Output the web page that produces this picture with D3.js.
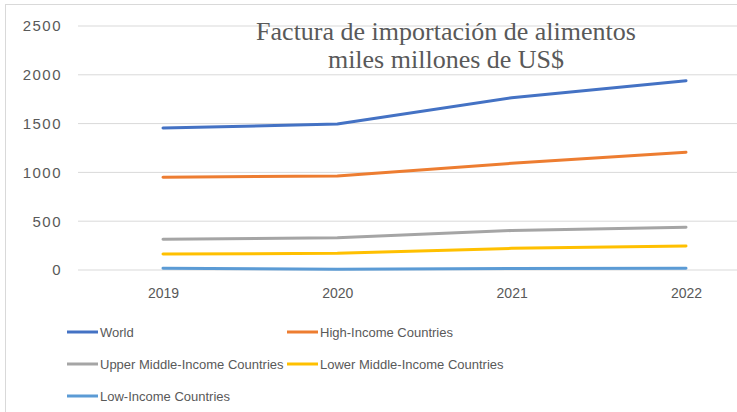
<!DOCTYPE html>
<html>
<head>
<meta charset="utf-8">
<script src="https://cdn.jsdelivr.net/npm/d3@7"></script>
<style>
    body { margin: 0; background: #fff; }
    text { font-family: "Liberation Sans", Arial, sans-serif; }
</style>
</head>
<body>
<div id="chart"></div>
<script>
const years = ["2019", "2020", "2021", "2022"];
const yTicks = [0, 500, 1000, 1500, 2000, 2500];

const world = [1455, 1495, 1765, 1940];
const highIncome = [950, 963, 1093, 1206];
const upperMiddle = [315, 331, 405, 437];
const lowerMiddle = [164, 171, 222, 246];
const lowIncome = [17, 8, 15, 18];

const seriesNames = ["World", "High-Income Countries", "Upper Middle-Income Countries",
    "Lower Middle-Income Countries", "Low-Income Countries"];
const seriesColors = ["#4472c4", "#ed7d31", "#a5a5a5", "#ffc000", "#5b9bd5"];
const seriesValues = [world, highIncome, upperMiddle, lowerMiddle, lowIncome];

const titleLines = ["Factura de importación de alimentos", "miles millones de US$"];

const width = 737;
const height = 412;

const svg = d3.select("#chart").append("svg")
    .attr("width", width)
    .attr("height", height);

// frame
svg.append("rect")
    .attr("x", 5.5).attr("y", 4.5)
    .attr("width", width + 10).attr("height", height + 10)
    .attr("fill", "none")
    .attr("stroke", "#d9d9d9");

const x = d3.scalePoint().domain(years).range([163, 686]);
const y = d3.scaleLinear().domain([0, 2500]).range([270, 26]);

// gridlines
svg.append("g")
    .selectAll("line")
    .data(yTicks)
    .join("line")
    .attr("x1", 78).attr("x2", width)
    .attr("y1", d => y(d)).attr("y2", d => y(d))
    .attr("stroke", "#d9d9d9")
    .attr("stroke-width", 1);

// y axis labels
const yAxis = svg.append("g")
    .attr("transform", "translate(62,0)")
    .call(d3.axisLeft(y).tickValues(yTicks).tickFormat(d3.format("d")).tickSize(0).tickPadding(0));
yAxis.select(".domain").remove();
yAxis.selectAll("text")
    .attr("fill", "#595959")
    .style("font-size", "15px")
    .style("letter-spacing", "1.5px");

// x axis labels
const xAxis = svg.append("g")
    .attr("transform", "translate(0,288)")
    .call(d3.axisBottom(x).tickSize(0).tickPadding(0));
xAxis.select(".domain").remove();
xAxis.selectAll("text")
    .attr("fill", "#595959")
    .style("font-size", "14px");

// title
svg.append("text")
    .attr("x", 446)
    .attr("y", 40)
    .attr("text-anchor", "middle")
    .attr("fill", "#595959")
    .style("font-family", "'Liberation Serif', 'Times New Roman', serif")
    .style("font-size", "26px")
    .selectAll("tspan")
    .data(titleLines)
    .join("tspan")
    .attr("x", 446)
    .attr("dy", (d, i) => i === 0 ? 0 : 28)
    .text(d => d);

// lines
const line = d3.line()
    .x((d, i) => x(years[i]))
    .y(d => y(d));

svg.append("g")
    .selectAll("path")
    .data(seriesValues)
    .join("path")
    .attr("d", d => line(d))
    .attr("fill", "none")
    .attr("stroke", (d, i) => seriesColors[i])
    .attr("stroke-width", 3)
    .attr("stroke-linejoin", "round")
    .attr("stroke-linecap", "round");

// legend
const legendPos = [[67, 332], [287, 332], [67, 364], [287, 364], [67, 396]];
const legend = svg.append("g")
    .selectAll("g")
    .data(seriesNames)
    .join("g")
    .attr("transform", (d, i) => `translate(${legendPos[i][0]},${legendPos[i][1]})`);

legend.append("line")
    .attr("x1", 0).attr("x2", 31)
    .attr("stroke", (d, i) => seriesColors[i])
    .attr("stroke-width", 3);

legend.append("text")
    .attr("x", 33)
    .attr("dy", "0.35em")
    .attr("fill", "#595959")
    .style("font-size", "13px")
    .text(d => d);
</script>
</body>
</html>
